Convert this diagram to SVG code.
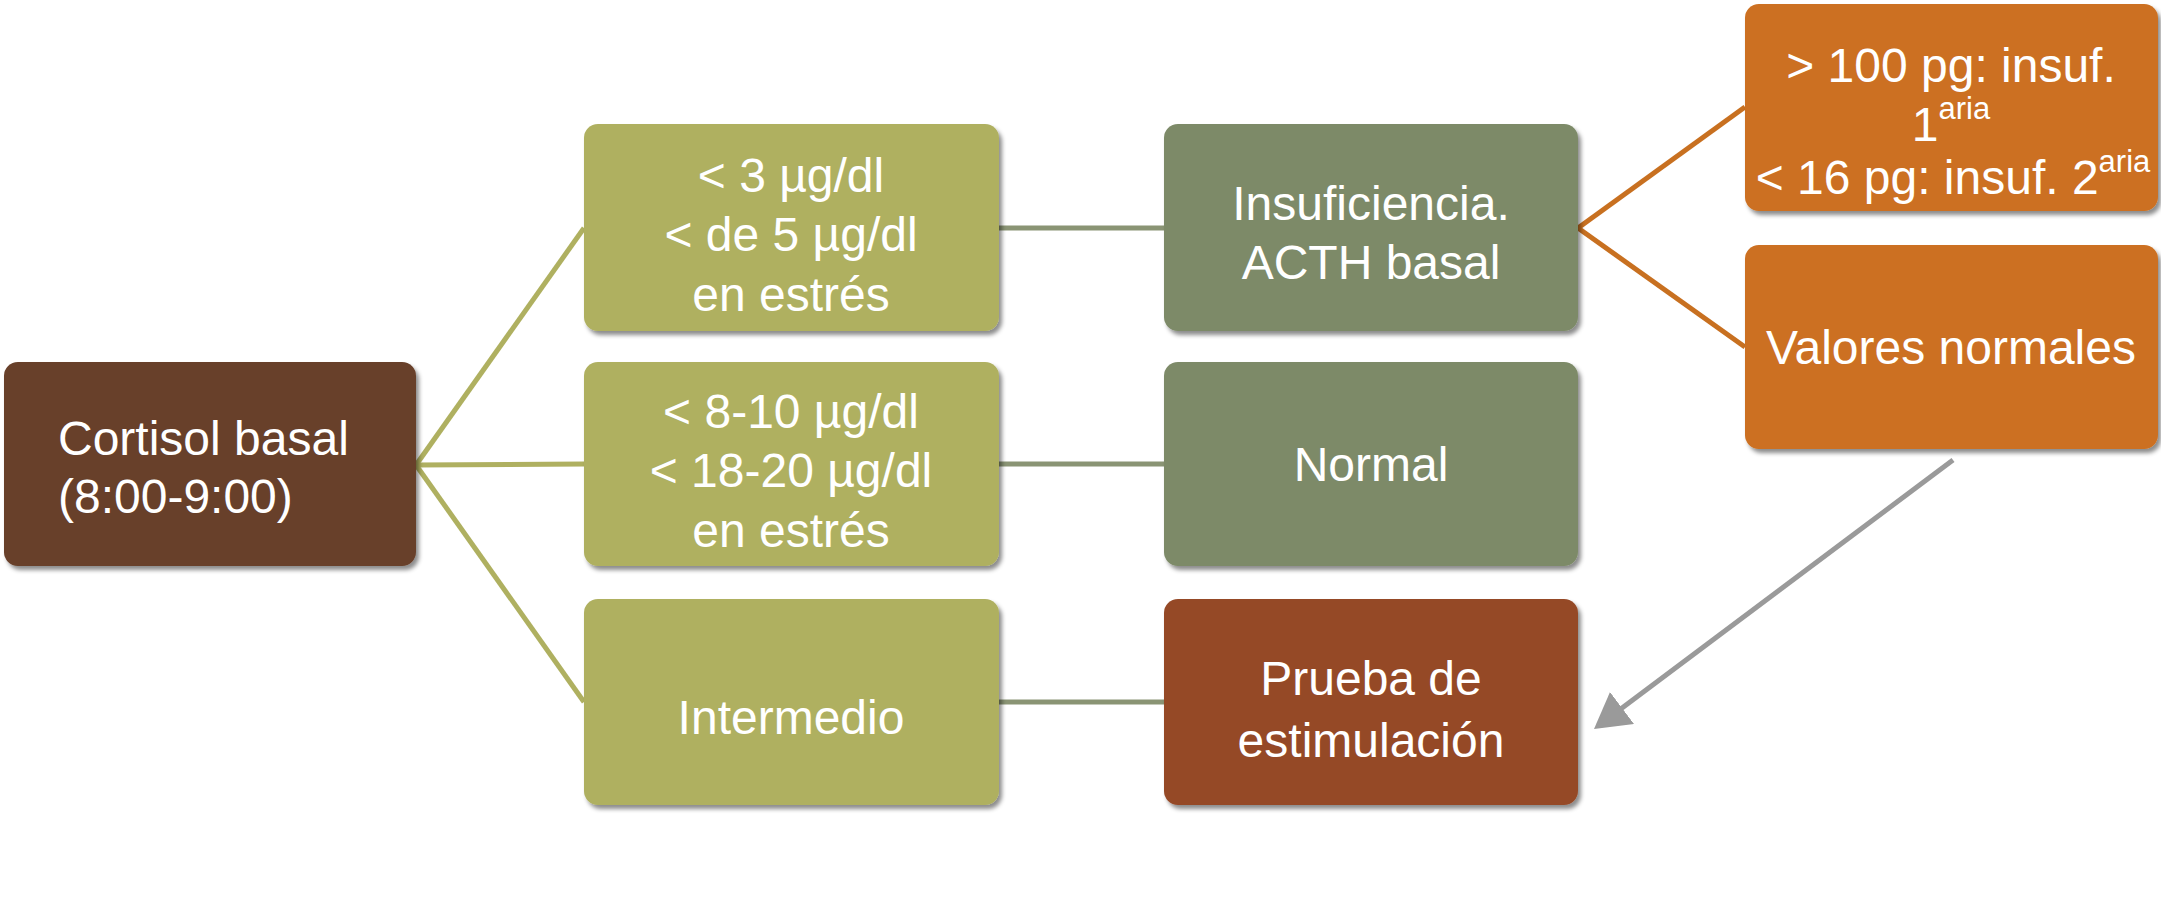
<svg xmlns="http://www.w3.org/2000/svg" width="2161" height="913" viewBox="0 0 2161 913">
<style>
.t{font-family:"Liberation Sans",Arial,sans-serif;font-size:48px;fill:#ffffff;text-anchor:middle}
.tl{font-family:"Liberation Sans",Arial,sans-serif;font-size:48px;fill:#ffffff}
.sup{font-size:31px}
.box{filter:url(#sh)}
.olive{fill:#afb060}
.sage{fill:#7d8a68}
.orange{fill:#cc7020}
</style>
<defs>
<filter id="sh" x="-5%" y="-5%" width="112%" height="115%">
<feDropShadow dx="3" dy="4" stdDeviation="2" flood-color="#000" flood-opacity="0.45"/>
</filter>
<marker id="ah" markerWidth="8" markerHeight="8" refX="6" refY="4" orient="auto" markerUnits="strokeWidth">
<path d="M0,0 L7,4 L0,8 Z" fill="#9a9a9a"/>
</marker>
</defs>
<rect width="2161" height="913" fill="#ffffff"/>
<g id="connectors" fill="none">
<g stroke="#afb060" stroke-width="5">
<line x1="416" y1="465" x2="584" y2="228"/>
<line x1="416" y1="465" x2="584" y2="464"/>
<line x1="416" y1="465" x2="584" y2="702"/>
</g>
<g stroke="#8a9474" stroke-width="5">
<line x1="999" y1="228" x2="1164" y2="228"/>
<line x1="999" y1="464" x2="1164" y2="464"/>
<line x1="999" y1="702" x2="1164" y2="702"/>
</g>
<g stroke="#c87020" stroke-width="5">
<line x1="1578" y1="228" x2="1745" y2="107"/>
<line x1="1578" y1="228" x2="1745" y2="347"/>
</g>
<line x1="1953" y1="460" x2="1598" y2="726" stroke="#9a9a9a" stroke-width="5" marker-end="url(#ah)"/>
</g>
<g id="n-cortisol">
<rect class="box" x="4" y="362" width="412" height="204" rx="14" fill="#673f29"/>
<text class="tl" x="58" y="455">Cortisol basal</text>
<text class="tl" x="58" y="513">(8:00-9:00)</text>
</g>
<g id="n-low">
<rect class="box olive" x="584" y="124" width="415" height="207" rx="14"/>
<text class="t" x="791" y="192">&lt; 3 µg/dl</text>
<text class="t" x="791" y="251">&lt; de 5 µg/dl</text>
<text class="t" x="791" y="311">en estrés</text>
</g>
<g id="n-high">
<rect class="box olive" x="584" y="362" width="415" height="204" rx="14"/>
<text class="t" x="791" y="428">&lt; 8-10 µg/dl</text>
<text class="t" x="791" y="487">&lt; 18-20 µg/dl</text>
<text class="t" x="791" y="547">en estrés</text>
</g>
<g id="n-intermedio">
<rect class="box olive" x="584" y="599" width="415" height="206" rx="14"/>
<text class="t" x="791" y="734">Intermedio</text>
</g>
<g id="n-insuf">
<rect class="box sage" x="1164" y="124" width="414" height="207" rx="14"/>
<text class="t" x="1371" y="220">Insuficiencia.</text>
<text class="t" x="1371" y="279">ACTH basal</text>
</g>
<g id="n-normal">
<rect class="box sage" x="1164" y="362" width="414" height="204" rx="14"/>
<text class="t" x="1371" y="481">Normal</text>
</g>
<g id="n-prueba">
<rect class="box" x="1164" y="599" width="414" height="206" rx="14" fill="#954a28"/>
<text class="t" x="1371" y="695">Prueba de</text>
<text class="t" x="1371" y="757">estimulación</text>
</g>
<g id="n-acth">
<rect class="box orange" x="1745" y="4" width="413" height="207" rx="14"/>
<text class="t" x="1951" y="82">&gt; 100 pg: insuf.</text>
<text class="t" x="1951" y="141">1<tspan class="sup" dy="-22">aria</tspan></text>
<text class="t" x="1953" y="194">&lt; 16 pg: insuf. 2<tspan class="sup" dy="-22">aria</tspan></text>
</g>
<g id="n-valores">
<rect class="box orange" x="1745" y="245" width="413" height="204" rx="14"/>
<text class="t" x="1951" y="364">Valores normales</text>
</g>
</svg>
